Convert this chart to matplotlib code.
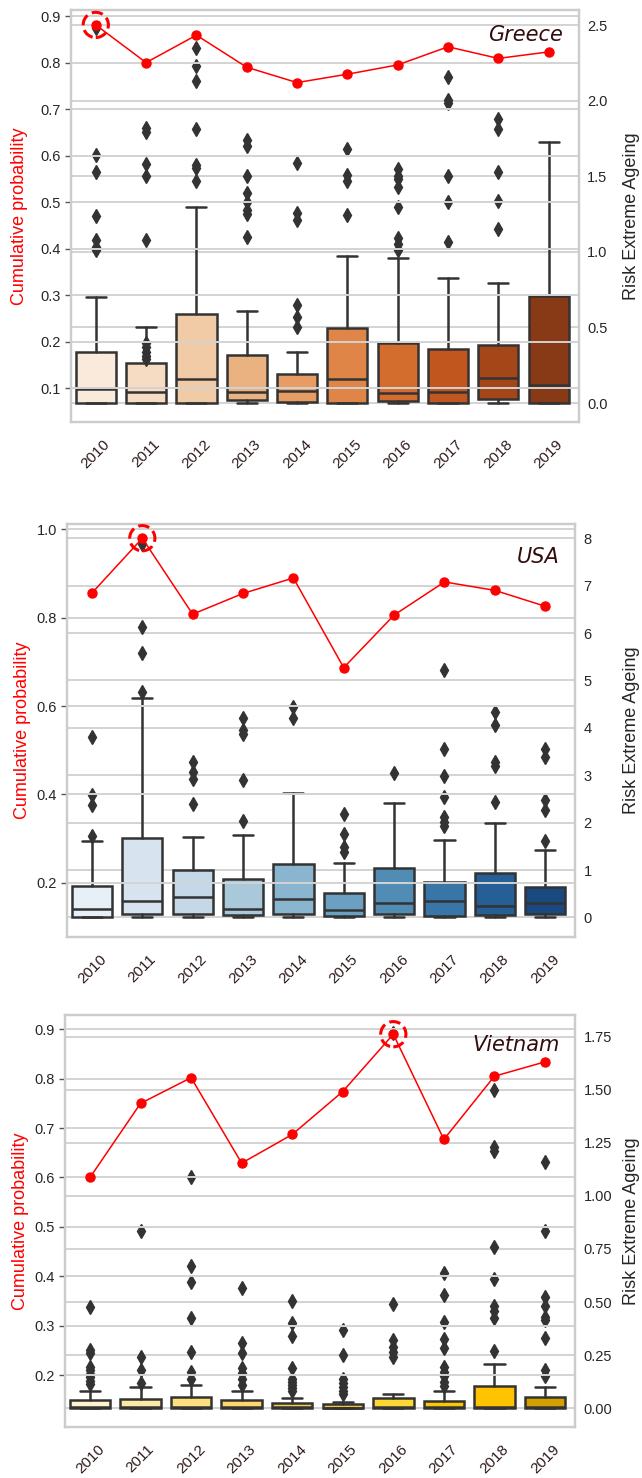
import colorsys
import numpy as np
import matplotlib
matplotlib.use('Agg')
import matplotlib.pyplot as plt
import seaborn as sns

sns.set_style('whitegrid')
plt.rcParams['font.family'] = ['Liberation Sans', 'DejaVu Sans']

years = ['2010', '2011', '2012', '2013', '2014', '2015', '2016', '2017', '2018', '2019']

# ---- Greece ----
greece_prob = [0.881, 0.800, 0.859, 0.790, 0.757, 0.775, 0.795, 0.834, 0.809, 0.823]
greece_q1 = [0.0, 0.0, 0.0, 0.02, 0.01, 0.0, 0.013, 0.002, 0.026, 0.0]
greece_med = [0.09, 0.07, 0.159, 0.075, 0.08, 0.159, 0.064, 0.071, 0.166, 0.12]
greece_q3 = [0.34, 0.263, 0.589, 0.32, 0.192, 0.497, 0.40, 0.356, 0.386, 0.706]
greece_lo = [0.0] * 10
greece_hi = [0.70, 0.50, 1.30, 0.61, 0.338, 0.975, 0.96, 0.826, 0.797, 1.73]
greece_fliers = [
    [2.48, 1.64, 1.53, 1.24, 1.08, 1.03, 1.01],
    [1.82, 1.79, 1.58, 1.50, 1.08, 0.40, 0.37, 0.34, 0.31, 0.29],
    [2.35, 2.23, 2.13, 1.81, 1.576, 1.554, 1.466],
    [1.74, 1.70, 1.50, 1.39, 1.33, 1.28, 1.25, 1.10],
    [1.59, 1.256, 1.21, 0.65, 0.57, 0.50],
    [1.68, 1.51, 1.47, 1.245],
    [1.55, 1.50, 1.48, 1.43, 1.30, 1.09, 1.05, 1.01],
    [2.154, 2.007, 1.985, 1.50, 1.333, 1.068],
    [1.88, 1.81, 1.53, 1.34, 1.15],
    [],
]

# ---- USA ----
usa_prob = [0.856, 0.980, 0.808, 0.855, 0.890, 0.687, 0.806, 0.881, 0.862, 0.826]
usa_q1 = [0.01, 0.07, 0.07, 0.05, 0.07, 0.03, 0.07, 0.03, 0.05, 0.08]
usa_med = [0.17, 0.344, 0.42, 0.17, 0.386, 0.146, 0.31, 0.344, 0.245, 0.30]
usa_q3 = [0.66, 1.67, 1.0, 0.81, 1.12, 0.52, 1.05, 0.74, 0.94, 0.65]
usa_lo = [0.0] * 10
usa_hi = [1.61, 4.64, 1.69, 1.73, 2.63, 1.15, 2.42, 1.63, 2.0, 1.42]
usa_fliers = [
    [3.80, 2.58, 2.37, 1.72],
    [7.89, 6.13, 5.58, 4.76],
    [3.28, 3.07, 2.93, 2.40],
    [4.20, 3.95, 3.88, 2.90, 2.04],
    [4.44, 4.20],
    [2.18, 1.77, 1.49, 1.38],
    [3.04],
    [5.22, 3.55, 2.98, 2.54, 2.12, 2.02, 1.93],
    [4.34, 4.06, 3.28, 3.20, 2.44],
    [3.55, 3.38, 2.47, 2.26, 1.62],
]

# ---- Vietnam ----
vietnam_prob = [0.600, 0.750, 0.802, 0.629, 0.687, 0.774, 0.890, 0.677, 0.805, 0.834]
vietnam_q1 = [0.0] * 10
vietnam_med = [0.005, 0.005, 0.005, 0.005, 0.004, 0.003, 0.005, 0.005, 0.004, 0.005]
vietnam_q3 = [0.039, 0.044, 0.055, 0.039, 0.024, 0.019, 0.05, 0.036, 0.105, 0.055]
vietnam_lo = [0.0] * 10
vietnam_hi = [0.081, 0.102, 0.11, 0.083, 0.05, 0.031, 0.066, 0.08, 0.207, 0.102]
vietnam_fliers = [
    [0.478, 0.275, 0.262, 0.196, 0.18, 0.16, 0.145, 0.13, 0.115],
    [0.836, 0.24, 0.18, 0.12],
    [1.09, 0.67, 0.596, 0.424, 0.265, 0.17, 0.14],
    [0.568, 0.306, 0.259, 0.19, 0.165, 0.14, 0.11],
    [0.507, 0.40, 0.34, 0.19, 0.14, 0.125, 0.11, 0.095, 0.08],
    [0.37, 0.253, 0.14, 0.12, 0.10, 0.08, 0.065],
    [1.765, 0.49, 0.32, 0.29, 0.265, 0.24],
    [0.638, 0.533, 0.408, 0.325, 0.283, 0.196, 0.172, 0.15, 0.125, 0.105],
    [1.50, 1.23, 1.21, 0.76, 0.61, 0.48, 0.46, 0.425, 0.27],
    [1.16, 0.835, 0.525, 0.48, 0.43, 0.415, 0.33, 0.18, 0.15],
]
vietnam_colors = ['#fff3cf', '#fde9a6', '#fde07d', '#fcd96a', '#f2cc4c',
                  '#f0c83a', '#fdd835', '#fcc800', '#ffc300', '#d4a000']


def desat(c, p=0.75):
    h, l, s = colorsys.rgb_to_hls(*c[:3])
    return colorsys.hls_to_rgb(h, l, s * p)


bins = np.linspace(0, 1, 12)[1:-1]
greece_colors = [desat(plt.cm.Oranges(b)) for b in bins]
usa_colors = [desat(plt.cm.Blues(b)) for b in bins]

panels = [
    dict(name='Greece', prob=greece_prob, q1=greece_q1, med=greece_med, q3=greece_q3,
         lo=greece_lo, hi=greece_hi, fliers=greece_fliers, colors=greece_colors,
         rect=[0.110, 0.7145, 0.7916, 0.2787], ylim1=(0.027, 0.913), ylim2=(-0.125, 2.60),
         ticks1=np.arange(0.1, 0.95, 0.1), fmt1='%.1f', ticks2=np.arange(0, 2.6, 0.5), fmt2='%.1f',
         title_xy=(0.9685, 0.925), lab1=-0.084, lab2=1.087),
    dict(name='USA', prob=usa_prob, q1=usa_q1, med=usa_med, q3=usa_q3,
         lo=usa_lo, hi=usa_hi, fliers=usa_fliers, colors=usa_colors,
         rect=[0.104, 0.366, 0.7922, 0.2794], ylim1=(0.077, 1.012), ylim2=(-0.415, 8.30),
         ticks1=np.arange(0.2, 1.05, 0.2), fmt1='%.1f', ticks2=np.arange(0, 9, 1), fmt2='%d',
         title_xy=(0.968, 0.906), lab1=-0.071, lab2=1.094),
    dict(name='Vietnam', prob=vietnam_prob, q1=vietnam_q1, med=vietnam_med, q3=vietnam_q3,
         lo=vietnam_lo, hi=vietnam_hi, fliers=vietnam_fliers, colors=vietnam_colors,
         rect=[0.1008, 0.0347, 0.7953, 0.2786], ylim1=(0.0955, 0.929), ylim2=(-0.087, 1.852),
         ticks1=np.arange(0.2, 0.95, 0.1), fmt1='%.1f', ticks2=np.arange(0, 1.8, 0.25), fmt2='%.2f',
         title_xy=(0.970, 0.913), lab1=-0.0705, lab2=1.093),
]

fig = plt.figure(figsize=(6.42, 14.78), dpi=100)
fig.patch.set_facecolor('white')

grid_color = '#d3d3d3'
edge = '#333333'
pos = np.arange(len(years))

for p in panels:
    ax1 = fig.add_axes(p['rect'])
    ax2 = ax1.twinx()

    # boxplots on the right axis
    stats = []
    for i in range(len(years)):
        stats.append(dict(med=p['med'][i], q1=p['q1'][i], q3=p['q3'][i],
                          whislo=p['lo'][i], whishi=p['hi'][i], fliers=p['fliers'][i]))
    bp = ax2.bxp(stats, positions=pos, widths=0.8, patch_artist=True, manage_ticks=False,
                 boxprops=dict(edgecolor=edge, linewidth=1.8),
                 medianprops=dict(color=edge, linewidth=1.8),
                 whiskerprops=dict(color=edge, linewidth=1.8),
                 capprops=dict(color=edge, linewidth=1.8),
                 flierprops=dict(marker='d', markerfacecolor=edge, markeredgecolor=edge,
                                 markersize=7.5, linestyle='none'))
    for box, c in zip(bp['boxes'], p['colors']):
        box.set_facecolor(c)

    ax2.set_ylim(*p['ylim2'])
    ax2.set_yticks(p['ticks2'])
    ax2.set_yticklabels([p['fmt2'] % t for t in p['ticks2']])
    ax2.tick_params(axis='y', length=0, pad=6, labelsize=10.5, labelcolor='#262626')
    ax2.grid(axis='y', color=grid_color, linewidth=1.4)
    ax2.set_axisbelow(True)
    ax2.set_ylabel('Risk Extreme Ageing', fontsize=13, color='#262626')
    ax2.yaxis.set_label_coords(p['lab2'], 0.5)

    # cumulative probability line on the left axis, drawn on top
    ax1.set_zorder(ax2.get_zorder() + 1)
    ax1.patch.set_visible(False)
    ax1.plot(pos, p['prob'], color='red', linewidth=1.1, marker='o', markersize=6.5)
    k = int(np.argmax(p['prob']))
    ax1.scatter([pos[k]], [p['prob'][k]], s=330, facecolors='none', edgecolors='red',
                linewidths=2.2, linestyles='--', zorder=5)

    ax1.set_xlim(-0.5, 9.6)
    ax1.set_ylim(*p['ylim1'])
    ax1.set_yticks(p['ticks1'])
    ax1.set_yticklabels([p['fmt1'] % t for t in p['ticks1']])
    ax1.set_xticks(pos)
    ax1.set_xticklabels(years, rotation=45, fontsize=11, color='#2e1a1a')
    ax1.tick_params(axis='x', length=0, pad=11)
    ax1.tick_params(axis='y', length=4, width=1, color='#555555', pad=3,
                    labelsize=10.5, labelcolor='#262626')
    ax1.xaxis.grid(False)
    ax1.yaxis.grid(True, color=grid_color, linewidth=1.4)
    ax1.set_ylabel('Cumulative probability', fontsize=13, color='red')
    ax1.yaxis.set_label_coords(p['lab1'], 0.5)

    for a in (ax1, ax2):
        for s in a.spines.values():
            s.set_color('#cccccc')
            s.set_linewidth(1.6)

    ax1.text(p['title_xy'][0], p['title_xy'][1], p['name'], transform=ax1.transAxes,
             ha='right', va='baseline', fontsize=15, style='italic',
             family='DejaVu Sans', color='#330d0d')

fig.savefig('out.png', dpi=100)
